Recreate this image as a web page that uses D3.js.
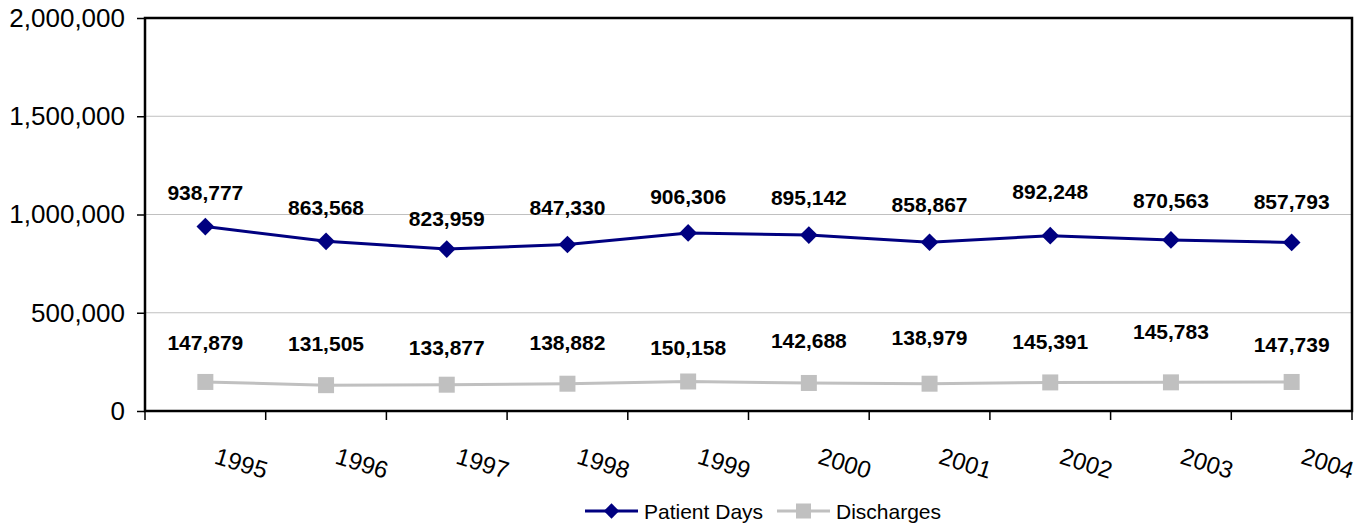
<!DOCTYPE html>
<html>
<head>
<meta charset="utf-8">
<script src="https://cdn.jsdelivr.net/npm/d3@7"></script>
<style>
  body { margin: 0; background: #fff; }
  text { font-family: "Liberation Sans", Arial, sans-serif; }
</style>
</head>
<body>
<div id="chart"></div>
<script>
// data
const years = ["1995", "1996", "1997", "1998", "1999", "2000", "2001", "2002", "2003", "2004"];
const patientDays = [938777, 863568, 823959, 847330, 906306, 895142, 858867, 892248, 870563, 857793];
const discharges = [147879, 131505, 133877, 138882, 150158, 142688, 138979, 145391, 145783, 147739];
const yTicks = [0, 500000, 1000000, 1500000, 2000000];

// labels were dragged around by hand in the original, so lift each one a bit differently
const pdLift = [34, 34, 31, 37, 36, 38, 38, 44, 39, 41];
const dcLift = [39, 42, 37, 41, 34, 42, 46, 41, 51, 37];

const W = 1367, H = 524;
const margin = {top: 18, right: 15, bottom: 113, left: 145};
const width = W - margin.left - margin.right,
      height = H - margin.top - margin.bottom;

const svg = d3.select("#chart").append("svg")
  .attr("width", W)
  .attr("height", H);

const g = svg.append("g")
  .attr("transform", "translate(" + margin.left + "," + margin.top + ")");

const x = d3.scaleBand().domain(years).range([0, width]);
const y = d3.scaleLinear().domain([0, 2000000]).range([height, 0]);
const fmt = d3.format(",");

// gridlines
g.selectAll(".grid")
  .data(yTicks.slice(1, -1))
  .enter().append("line")
  .attr("x1", 0).attr("x2", width)
  .attr("y1", d => y(d)).attr("y2", d => y(d))
  .attr("stroke", "#c0c0c0").attr("stroke-width", 1);

// y axis
const yAxis = g.append("g")
  .call(d3.axisLeft(y).tickValues(yTicks).tickFormat(fmt).tickSize(8).tickPadding(12));
yAxis.select(".domain").remove();
yAxis.selectAll("line").attr("stroke", "#000").attr("stroke-width", 1.5);
yAxis.selectAll("text").style("font-size", "26px").attr("fill", "#000");

// x axis ticks at the category boundaries
const bounds = years.map(d => x(d)).concat([width]);
g.selectAll(".xtick")
  .data(bounds)
  .enter().append("line")
  .attr("x1", d => d).attr("x2", d => d)
  .attr("y1", height).attr("y2", height + 9)
  .attr("stroke", "#000").attr("stroke-width", 1.5);

// slanted year labels
g.selectAll(".xlab")
  .data(years)
  .enter().append("text")
  .attr("transform", d => "translate(" + (x(d) + x.bandwidth() / 2 + 36) + "," + (height + 52) + ") rotate(17)")
  .attr("text-anchor", "middle")
  .attr("dominant-baseline", "central")
  .style("font-size", "24px")
  .text(d => d);

// plot frame
g.append("rect")
  .attr("width", width).attr("height", height)
  .attr("fill", "none").attr("stroke", "#000").attr("stroke-width", 2.5);

const cx = (d, i) => x(years[i]) + x.bandwidth() / 2;
const line = d3.line().x(cx).y(d => y(d));

// Patient Days
g.append("path").datum(patientDays)
  .attr("d", line)
  .attr("fill", "none").attr("stroke", "#000080").attr("stroke-width", 3);
g.selectAll(".pd")
  .data(patientDays)
  .enter().append("path")
  .attr("d", d3.symbol(d3.symbolDiamond2, 200))
  .attr("transform", (d, i) => "translate(" + cx(d, i) + "," + y(d) + ")")
  .attr("fill", "#000080");

// Discharges
g.append("path").datum(discharges)
  .attr("d", line)
  .attr("fill", "none").attr("stroke", "#c0c0c0").attr("stroke-width", 3);
g.selectAll(".dc")
  .data(discharges)
  .enter().append("rect")
  .attr("x", (d, i) => cx(d, i) - 8).attr("y", d => y(d) - 8)
  .attr("width", 16).attr("height", 16)
  .attr("fill", "#c0c0c0");

// data labels
function labels(vals, lift) {
  g.selectAll(null)
    .data(vals)
    .enter().append("text")
    .attr("x", cx)
    .attr("y", (d, i) => y(d) - lift[i])
    .attr("text-anchor", "middle")
    .attr("dominant-baseline", "central")
    .style("font-size", "21px").style("font-weight", "bold")
    .text(d => fmt(d));
}
labels(patientDays, pdLift);
labels(discharges, dcLift);

// legend
const leg = svg.append("g").attr("transform", "translate(0,511)");
const pdLeg = leg.append("g").attr("transform", "translate(585,0)");
pdLeg.append("line").attr("x1", 0).attr("x2", 53)
  .attr("stroke", "#000080").attr("stroke-width", 3);
pdLeg.append("path").attr("d", d3.symbol(d3.symbolDiamond2, 150))
  .attr("transform", "translate(26.5,0)").attr("fill", "#000080");
pdLeg.append("text").attr("x", 59).attr("dominant-baseline", "central")
  .style("font-size", "21px").text("Patient Days");

const dcLeg = leg.append("g").attr("transform", "translate(777,0)");
dcLeg.append("line").attr("x1", 0).attr("x2", 53)
  .attr("stroke", "#c0c0c0").attr("stroke-width", 3);
dcLeg.append("rect").attr("x", 19).attr("y", -7.5).attr("width", 15).attr("height", 15)
  .attr("fill", "#c0c0c0");
dcLeg.append("text").attr("x", 59).attr("dominant-baseline", "central")
  .style("font-size", "21px").text("Discharges");
</script>
</body>
</html>
